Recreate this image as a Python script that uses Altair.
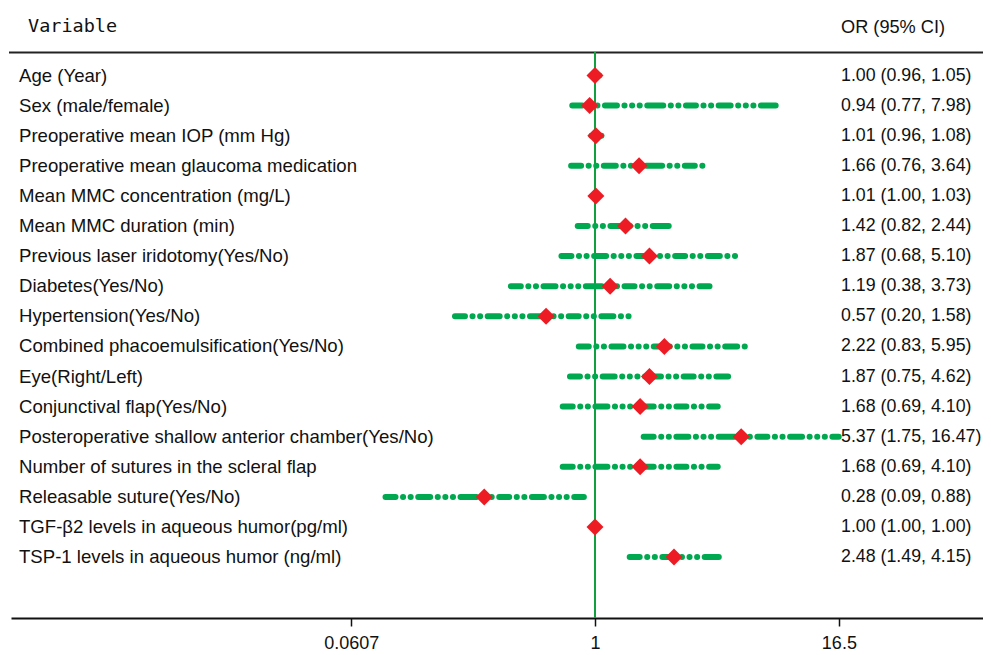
import altair as alt
import pandas as pd

labels = [
    "Age (Year)",
    "Sex (male/female)",
    "Preoperative mean IOP (mm Hg)",
    "Preoperative mean glaucoma medication",
    "Mean MMC concentration (mg/L)",
    "Mean MMC duration (min)",
    "Previous laser iridotomy(Yes/No)",
    "Diabetes(Yes/No)",
    "Hypertension(Yes/No)",
    "Combined phacoemulsification(Yes/No)",
    "Eye(Right/Left)",
    "Conjunctival flap(Yes/No)",
    "Posteroperative shallow anterior chamber(Yes/No)",
    "Number of sutures in the scleral flap",
    "Releasable suture(Yes/No)",
    "TGF-β2 levels in aqueous humor(pg/ml)",
    "TSP-1 levels in aqueous humor (ng/ml)",
]
or_vals = [1.00, 0.94, 1.01, 1.66, 1.01, 1.42, 1.87, 1.19, 0.57, 2.22, 1.87, 1.68, 5.37, 1.68, 0.28, 1.00, 2.48]
ci_low = [0.96, 0.77, 0.96, 0.76, 1.00, 0.82, 0.68, 0.38, 0.20, 0.83, 0.75, 0.69, 1.75, 0.69, 0.09, 1.00, 1.49]
ci_high = [1.05, 7.98, 1.08, 3.64, 1.03, 2.44, 5.10, 3.73, 1.58, 5.95, 4.62, 4.10, 16.47, 4.10, 0.88, 1.00, 4.15]
ci_text = [
    "1.00 (0.96, 1.05)", "0.94 (0.77, 7.98)", "1.01 (0.96, 1.08)", "1.66 (0.76, 3.64)",
    "1.01 (1.00, 1.03)", "1.42 (0.82, 2.44)", "1.87 (0.68, 5.10)", "1.19 (0.38, 3.73)",
    "0.57 (0.20, 1.58)", "2.22 (0.83, 5.95)", "1.87 (0.75, 4.62)", "1.68 (0.69, 4.10)",
    "5.37 (1.75, 16.47)", "1.68 (0.69, 4.10)", "0.28 (0.09, 0.88)", "1.00 (1.00, 1.00)",
    "2.48 (1.49, 4.15)",
]
tick_values = [0.0607, 1, 16.5]
ref_value = [1]

df = pd.DataFrame({
    "row": list(range(len(labels))),
    "label": labels,
    "or": or_vals,
    "lo": ci_low,
    "hi": ci_high,
    "txt": ci_text,
})

W, H = 972, 610
xscale = alt.Scale(type="log", domain=[0.001215, 86.5], nice=False, clamp=False)
yscale = alt.Scale(domain=[-2.2425, 18.023], reverse=True, nice=False, zero=False)

GREEN = "#00a94f"
RED = "#ed1c24"
FONT = "Liberation Sans"

base = alt.Chart(df)

ci = base.mark_rule(
    color=GREEN, strokeWidth=6, strokeCap="round",
    strokeDash=[10, 7.5, 0.1, 7.5, 0.1, 7.5, 12, 7.5, 0.1, 7.5, 0.1, 7.5, 0.1, 7.5, 16, 7.5, 0.1, 7.5, 0.1, 7.5],
).encode(
    x=alt.X("lo:Q", scale=xscale,
            axis=alt.Axis(values=tick_values, format="~g", title=None, grid=False,
                          domainColor="#111", domainWidth=2, tickColor="#111",
                          tickWidth=1.5, tickSize=8, labelFontSize=18,
                          labelFont="Liberation Sans Narrow, Arial Narrow, Liberation Sans",
                          labelColor="#111", labelPadding=8, labelFlush=False)),
    x2="hi:Q",
    y=alt.Y("row:Q", scale=yscale, axis=None),
)

vline = alt.Chart(pd.DataFrame({"v": ref_value})).mark_rule(color="#10a040", strokeWidth=2).encode(
    x=alt.X("v:Q", scale=xscale),
    y=alt.value(44),
    y2=alt.value(H),
)

header_rule = alt.Chart(pd.DataFrame({"v": ref_value})).mark_rule(color="#222", strokeWidth=2).encode(
    x=alt.value(-2), x2=alt.value(975), y=alt.value(44.5)
)

diamonds = base.mark_point(shape="diamond", filled=True, size=290, color=RED, opacity=1).encode(
    x=alt.X("or:Q", scale=xscale),
    y=alt.Y("row:Q", scale=yscale),
)

names = base.mark_text(align="left", baseline="middle", fontSize=18.6, font=FONT, color="#111").encode(
    x=alt.value(8),
    y=alt.Y("row:Q", scale=yscale),
    text="label:N",
)

vals = base.mark_text(align="left", baseline="middle", fontSize=17.8, font=FONT, color="#111").encode(
    x=alt.value(830),
    y=alt.Y("row:Q", scale=yscale),
    text="txt:N",
)

hdr_var = alt.Chart(pd.DataFrame({"t": ["Variable"]})).mark_text(
    align="left", baseline="middle", fontSize=18.5, font="DejaVu Sans Mono", color="#111"
).encode(x=alt.value(17), y=alt.value(17.5), text="t:N")

hdr_or = alt.Chart(pd.DataFrame({"t": ["OR (95% CI)"]})).mark_text(
    align="left", baseline="middle", fontSize=18.2, font=FONT, color="#111"
).encode(x=alt.value(830), y=alt.value(20), text="t:N")

chart = alt.layer(header_rule, vline, ci, diamonds, names, vals, hdr_var, hdr_or).properties(
    width=W, height=H,
    autosize=alt.AutoSizeParams(type="none"),
    padding={"left": 3, "top": 0, "right": 0, "bottom": 35},
    background="white",
).configure_view(stroke=None)

chart.save("out.html", embed_options={"renderer": "svg", "actions": False})
